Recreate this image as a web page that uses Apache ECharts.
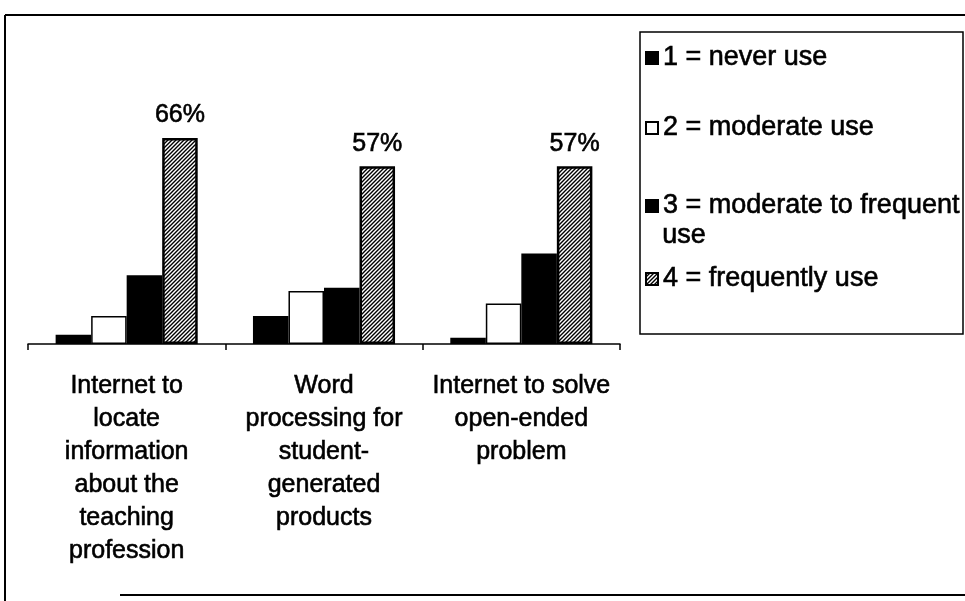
<!DOCTYPE html>
<html>
<head>
<meta charset="utf-8">
<script src="https://cdn.jsdelivr.net/npm/echarts@6/dist/echarts.min.js"></script>
<style>
  html, body { margin: 0; padding: 0; background: #fff; }
  #chart { width: 965px; height: 601px; }
</style>
</head>
<body>
<div id="chart"></div>
<script>
// data (percent of respondents)
var categories = [
  'Internet to\nlocate\ninformation\nabout the\nteaching\nprofession',
  'Word\nprocessing for\nstudent-\ngenerated\nproducts',
  'Internet to solve\nopen-ended\nproblem'
]
var seriesNames = ['1 = never use', '2 = moderate use', '3 = moderate to frequent use', '4 = frequently use']
var neverUse = [3, 9, 2]
var moderateUse = [9, 17, 13]
var moderateFrequent = [22, 18, 29]
var frequentlyUse = [66, 57, 57]

var FONT = '"Liberation Sans", Arial, sans-serif'
// scanned text looks heavy, thicken a bit with a thin outline
var INK = { color: '#000', fontFamily: FONT, textBorderColor: '#000', textBorderWidth: 0.6 }

// hatch fill for "frequently use" (/ diagonals)
function hatch () {
  var c = document.createElement('canvas')
  c.width = 4
  c.height = 4
  var ctx = c.getContext('2d')
  ctx.fillStyle = '#fff'
  ctx.fillRect(0, 0, 4, 4)
  ctx.strokeStyle = '#000'
  ctx.lineWidth = 1.4
  ctx.beginPath()
  ctx.moveTo(-1, 5); ctx.lineTo(5, -1)
  ctx.moveTo(-1, 1); ctx.lineTo(1, -1)
  ctx.moveTo(3, 5); ctx.lineTo(5, 3)
  ctx.stroke()
  return { image: c, repeat: 'repeat' }
}

function legendAt (name, top, text) {
  return {
    data: [name],
    top: top,
    left: 645,
    orient: 'vertical',
    padding: 0,
    icon: 'rect',
    itemWidth: 12,
    itemHeight: 12,
    selectedMode: false,
    formatter: text ? function () { return text } : '{name}',
    textStyle: Object.assign({ fontSize: 27, lineHeight: 30 }, INK)
  }
}

var chart = echarts.init(document.getElementById('chart'))

var option = {
  backgroundColor: '#fff',
  animation: false,
  grid: { left: 28, right: 345, top: 32, bottom: 257 },
  legend: [
    legendAt(seriesNames[0], 43),
    legendAt(seriesNames[1], 113),
    legendAt(seriesNames[2], 191, '3 = moderate to frequent'),
    legendAt(seriesNames[3], 264)
  ],
  xAxis: {
    type: 'category',
    data: categories,
    axisLine: { lineStyle: { color: '#000', width: 1.5 } },
    axisTick: { show: true, length: 6, lineStyle: { color: '#000', width: 1.5 } },
    axisLabel: Object.assign({
      interval: 0,
      margin: 26,
      fontSize: 25,
      lineHeight: 33,
      align: 'center'
    }, INK)
  },
  yAxis: {
    type: 'value',
    min: 0,
    max: 100,
    show: false,
    splitLine: { show: false }
  },
  series: [
    {
      name: seriesNames[0],
      type: 'bar',
      data: neverUse,
      barGap: '0%',
      barCategoryGap: '28%',
      itemStyle: { color: '#000', borderColor: '#000', borderWidth: 1.5 }
    },
    {
      name: seriesNames[1],
      type: 'bar',
      data: moderateUse,
      itemStyle: { color: '#fff', borderColor: '#000', borderWidth: 1.5 }
    },
    {
      name: seriesNames[2],
      type: 'bar',
      data: moderateFrequent,
      itemStyle: { color: '#000', borderColor: '#000', borderWidth: 1.5 }
    },
    {
      name: seriesNames[3],
      type: 'bar',
      data: frequentlyUse,
      itemStyle: { color: hatch(), borderColor: '#000', borderWidth: 2.5 },
      label: Object.assign({
        show: true,
        position: 'top',
        distance: 10,
        formatter: '{c}%',
        fontSize: 25
      }, INK)
    }
  ],
  graphic: [
    // outer frame (bottom-left corner is missing in the scan)
    { type: 'line', shape: { x1: 5, y1: 15, x2: 965, y2: 15 }, style: { stroke: '#000', lineWidth: 2 } },
    { type: 'line', shape: { x1: 5, y1: 15, x2: 5, y2: 601 }, style: { stroke: '#000', lineWidth: 2 } },
    { type: 'line', shape: { x1: 120, y1: 595, x2: 965, y2: 595 }, style: { stroke: '#000', lineWidth: 2 } },
    // legend box
    { type: 'rect', shape: { x: 640, y: 32, width: 323, height: 302 }, style: { fill: 'none', stroke: '#000', lineWidth: 1.5 }, z: -1 },
    // wrapped tail of the third legend entry
    {
      type: 'text',
      left: 662,
      top: 222,
      style: { text: 'use', font: '27px "Liberation Sans", Arial, sans-serif', fill: '#000', stroke: '#000', lineWidth: 0.6 }
    }
  ]
}

chart.setOption(option)
</script>
</body>
</html>
